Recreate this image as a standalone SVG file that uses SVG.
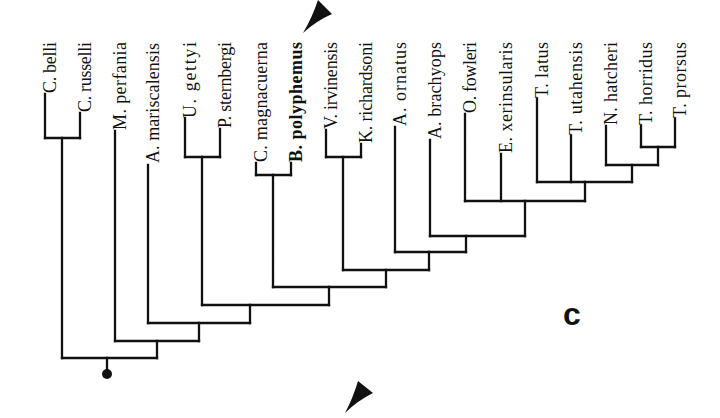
<svg xmlns="http://www.w3.org/2000/svg" width="720" height="418" viewBox="0 0 720 418">
<style>
.tx{font-family:"Liberation Serif","Times New Roman",serif;font-size:18px;fill:#111}
.b{font-weight:bold}
.ln{fill:none;stroke:#111;stroke-width:2.3;stroke-linecap:square}
.lab{font-family:"Liberation Sans",Arial,sans-serif;font-size:32px;font-weight:bold;fill:#111}
</style>
<rect width="720" height="418" fill="#fff"/>
<g id="connectors" class="ln">
<path d="M45 94V138M80 113V138M115 131V341M148 165V323M185 118V157M220 129V157M256 163V175M291 163V175M326 130V157M361 144V157M395 127V252M430 140V236M465 114V201M501 154V201M537 99V182M571 136V182M606 126V165M641 126V147M675 119V147"/>
<path d="M45 138H80M185 157H220M256 175H291M326 157H361M641 147H675M606 165H658M537 182H632M465 201H585M430 236H525M395 252H466M343 270H429M273 287H386M202 305H329M148 323H250M115 341H199M62 358H157"/>
<path d="M62 138V358M202 157V305M273 175V287M343 157V270M658 147V165M632 165V182M585 182V201M525 201V236M466 236V252M429 252V270M386 270V287M329 287V305M250 305V323M199 323V341M157 341V358M107 358V374"/>
</g>
<g id="root"><circle cx="107" cy="374" r="5" fill="#111"/></g>
<g id="n-c-belli"><text class="tx" transform="translate(55.5,93) rotate(-90)" textLength="51">C. belli</text></g>
<g id="n-c-russelli"><text class="tx" transform="translate(90.5,112) rotate(-90)" textLength="70">C. russelli</text></g>
<g id="n-m-perfania"><text class="tx" transform="translate(125.5,130) rotate(-90)" textLength="88">M. perfania</text></g>
<g id="n-a-mariscalensis"><text class="tx" transform="translate(158.5,163) rotate(-90)" textLength="120">A. mariscalensis</text></g>
<g id="n-u-gettyi"><text class="tx" transform="translate(195.5,118) rotate(-90)" textLength="76">U. gettyi</text></g>
<g id="n-p-sternbergi"><text class="tx" transform="translate(230.5,128) rotate(-90)" textLength="86">P. sternbergi</text></g>
<g id="n-c-magnacuerna"><text class="tx" transform="translate(266.5,162) rotate(-90)" textLength="120">C. magnacuerna</text></g>
<g id="n-b-polyphemus"><text class="tx b" transform="translate(301.5,162) rotate(-90)" textLength="120">B. polyphemus</text></g>
<g id="n-v-irvinensis"><text class="tx" transform="translate(336.5,129) rotate(-90)" textLength="87">V. irvinensis</text></g>
<g id="n-k-richardsoni"><text class="tx" transform="translate(371.5,143) rotate(-90)" textLength="101">K. richardsoni</text></g>
<g id="n-a-ornatus"><text class="tx" transform="translate(405.5,126) rotate(-90)" textLength="84">A. ornatus</text></g>
<g id="n-a-brachyops"><text class="tx" transform="translate(440.5,139) rotate(-90)" textLength="97">A. brachyops</text></g>
<g id="n-o-fowleri"><text class="tx" transform="translate(475.5,113) rotate(-90)" textLength="71">O. fowleri</text></g>
<g id="n-e-xerinsularis"><text class="tx" transform="translate(511.5,153) rotate(-90)" textLength="111">E. xerinsularis</text></g>
<g id="n-t-latus"><text class="tx" transform="translate(547.5,98) rotate(-90)" textLength="56">T. latus</text></g>
<g id="n-t-utahensis"><text class="tx" transform="translate(581.5,135) rotate(-90)" textLength="93">T. utahensis</text></g>
<g id="n-n-hatcheri"><text class="tx" transform="translate(616.5,125) rotate(-90)" textLength="83">N. hatcheri</text></g>
<g id="n-t-horridus"><text class="tx" transform="translate(651.5,125) rotate(-90)" textLength="83">T. horridus</text></g>
<g id="n-t-prorsus"><text class="tx" transform="translate(685.5,118) rotate(-90)" textLength="76">T. prorsus</text></g>
<g id="markers" fill="#111">
<path d="M303 33Q312 18 318 0L332 14Q316 21 303 33Z"/>
<path d="M345 413Q353 398 358 381L373 393Q357 401 345 413Z"/>
</g>
<g id="panel-label"><text class="lab" x="563" y="325">c</text></g>
</svg>
